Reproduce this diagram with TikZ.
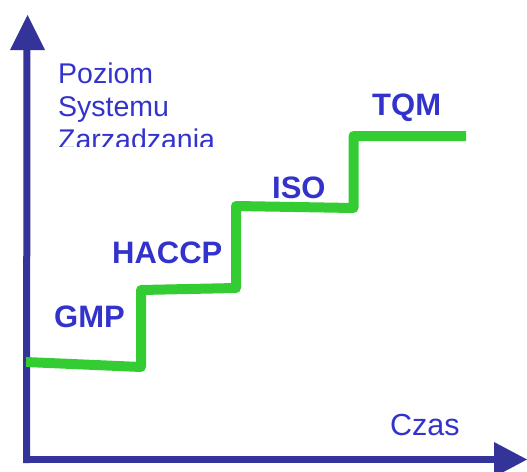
\documentclass[tikz,border=0pt]{standalone}
\usepackage{fontspec}
\setmainfont{Liberation Sans}
\definecolor{axisblue}{HTML}{333399}
\definecolor{txtblue}{HTML}{3333CC}
\definecolor{stepgreen}{HTML}{33CC33}
\begin{document}
\begin{tikzpicture}[x=1pt,y=-1pt,
  axisline/.style={draw=axisblue,line width=7pt},
  tipshape/.style={fill=axisblue},
  steplabel/.style={text=txtblue,font=\fontsize{31}{35}\selectfont\bfseries,anchor=base west,inner sep=0pt},
  axislabel/.style={text=txtblue,font=\fontsize{28.5}{33}\selectfont,anchor=base west,inner sep=0pt},
  stairs/.style={draw=stepgreen,line width=10pt,line join=round}]
\useasboundingbox (0,0) rectangle (527,471);
% axes
\coordinate (origin) at (26.5,459.5);
\coordinate (ytipbase) at (27,49);
\coordinate (xtipbase) at (495,459.5);
\draw[axisline] (26.5,463) -- (ytipbase);
\draw[axisline] (23,459.5) -- (xtipbase);
\fill[tipshape] (27.5,15) -- (45,50) -- (10,50) -- cycle;
\fill[tipshape] (527,459.5) -- (494,442) -- (494,477) -- cycle;
% axis labels
\node[axislabel] (poziom) at (58,83) {Poziom};
\node[axislabel] (systemu) at (58,116) {Systemu};
\begin{scope}
\clip (50,118) rectangle (260,146);
\node[axislabel] (zarz) at (58,149) {Zarzadzania};
\end{scope}
\node[axislabel,font=\fontsize{30.5}{34}\selectfont] (czas) at (390,435) {Czas};
% stairs
\coordinate (s0) at (26,362);
\coordinate (s1) at (141,367);
\coordinate (s2) at (141,290);
\coordinate (s3) at (236,288);
\coordinate (s4) at (236,206);
\coordinate (s5) at (353.5,208);
\coordinate (s6) at (353.5,136);
\coordinate (s7) at (466,136);
\draw[stairs] (s0) -- (s1) -- (s2) -- (s3) -- (s4) -- (s5) -- (s6) -- (s7);
% step labels
\node[steplabel] (gmp) at (54,327) {GMP};
\node[steplabel] (haccp) at (112,263) {HACCP};
\node[steplabel] (iso) at (272,198) {ISO};
\node[steplabel] (tqm) at (372,115) {TQM};
\end{tikzpicture}
\end{document}
